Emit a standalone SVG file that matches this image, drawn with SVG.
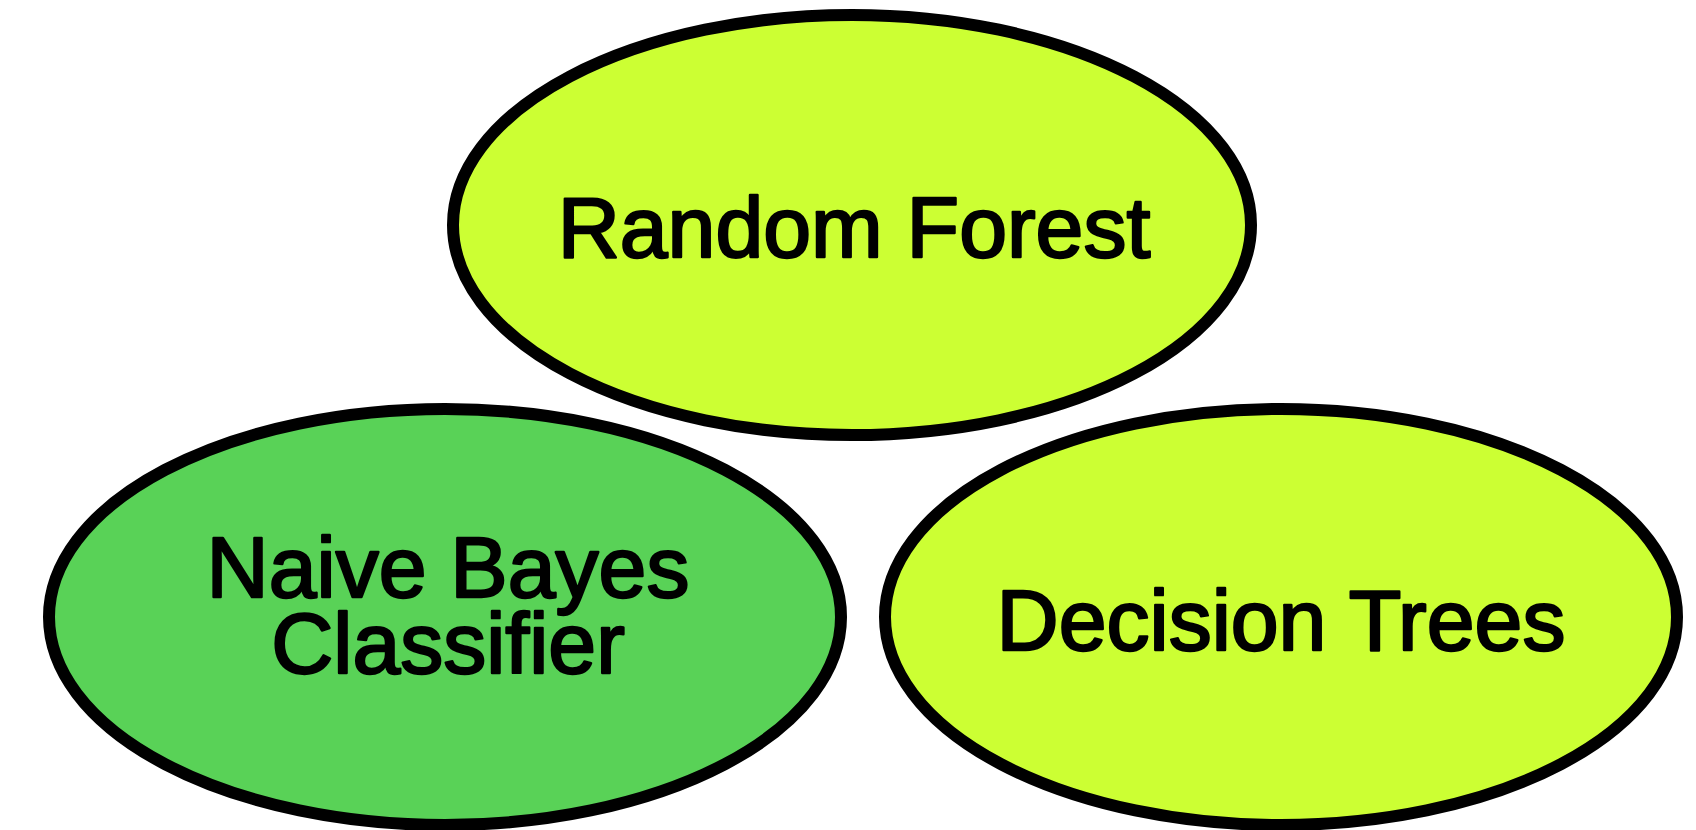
<svg xmlns="http://www.w3.org/2000/svg" width="1696" height="830" viewBox="0 0 1696 830">
<style>
.node{stroke:#000;stroke-width:12}
.lime{fill:#CCFF33}
.green{fill:#59D257}
.lbl{font-family:"Liberation Sans",Arial,Helvetica,sans-serif;font-size:86px;fill:#000;stroke:#000;stroke-width:2.4;stroke-linejoin:round;text-anchor:middle}
</style>
<rect width="1696" height="830" fill="#fff"/>
<g id="connectors"></g>
<g id="random-forest">
<ellipse class="node lime" cx="852" cy="225" rx="399" ry="210"/>
<text class="lbl" x="854" y="257">Random Forest</text>
</g>
<g id="naive-bayes">
<ellipse class="node green" cx="445" cy="617" rx="396" ry="208"/>
<text class="lbl" x="448" y="597">Naive Bayes</text>
<text class="lbl" x="448" y="673">Classifier</text>
</g>
<g id="decision-trees">
<ellipse class="node lime" cx="1281" cy="617" rx="396" ry="208"/>
<text class="lbl" x="1281" y="650">Decision Trees</text>
</g>
</svg>
